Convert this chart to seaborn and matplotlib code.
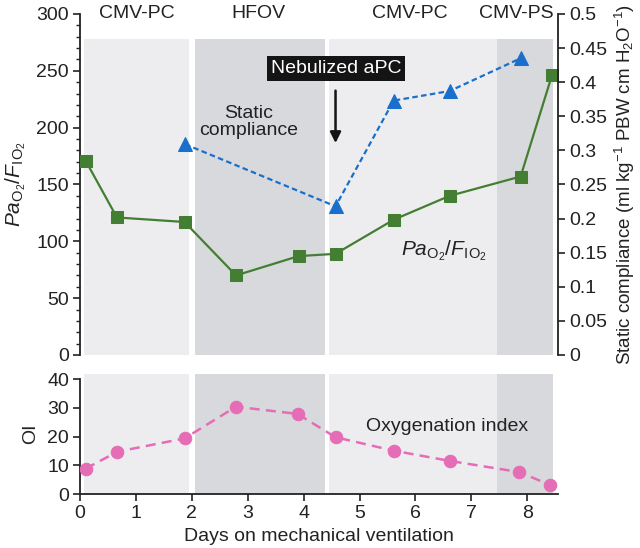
import numpy as np
import pandas as pd
import matplotlib
matplotlib.use("Agg")
import matplotlib.pyplot as plt
from matplotlib.ticker import MultipleLocator, FuncFormatter
import seaborn as sns

# ---- data ----
pf_days = [0.10, 0.66, 1.87, 2.79, 3.91, 4.57, 5.61, 6.61, 7.88, 8.44]
pf_vals = [171, 121, 117, 70, 87, 89, 119, 140, 157, 246]

sc_days = [1.88, 4.57, 5.61, 6.61, 7.88]
sc_vals = [0.309, 0.218, 0.373, 0.387, 0.435]

oi_days = [0.10, 0.67, 1.87, 2.79, 3.89, 4.57, 5.62, 6.61, 7.86, 8.41]
oi_vals = [8.9, 14.8, 19.4, 30.4, 27.9, 19.8, 15.1, 11.6, 7.7, 3.2]

phase_names = ["CMV-PC", "HFOV", "CMV-PC", "CMV-PS"]
phase_start = [0.08, 2.05, 4.46, 7.45]
phase_end = [1.95, 4.38, 7.45, 8.46]
phase_dark = [False, True, False, True]
phase_label_x = [1.02, 3.2, 5.9, 7.8]

x_ticks = [0, 1, 2, 3, 4, 5, 6, 7, 8]

sns.set_theme(style="white")
plt.rcParams["font.family"] = ["Liberation Sans", "DejaVu Sans"]
plt.rcParams["mathtext.fontset"] = "custom"
plt.rcParams["mathtext.rm"] = "Liberation Sans"
plt.rcParams["mathtext.it"] = "Liberation Sans:italic"
plt.rcParams["mathtext.bf"] = "Liberation Sans:bold"

FS = 14
TXT = "#222222"
LIGHT = "#ededef"
DARK = "#d8d9dc"
GREEN = "#437e33"
BLUE = "#1a6fcc"
PINK = "#e56db5"

PF_LABEL = r"$Pa_{\mathrm{O_2}}/F_{\mathrm{I}}{}_{\mathrm{O_2}}$"

fig = plt.figure(figsize=(6.4, 5.48), dpi=100)
ax1 = fig.add_axes([0.125, 0.3522, 0.747, 0.6223])
ax3 = fig.add_axes([0.125, 0.098, 0.747, 0.2208])
ax2 = ax1.twinx()

XL = (0, 8.55)

# shading
for s, e, d in zip(phase_start, phase_end, phase_dark):
    c = DARK if d else LIGHT
    ax1.fill_between([s, e], 0, 278, color=c, lw=0, zorder=0)
    ax3.fill_between([s, e], 0, 41.8, color=c, lw=0, zorder=0)

# top panel
df_pf = pd.DataFrame({"day": pf_days, "val": pf_vals})
sns.lineplot(data=df_pf, x="day", y="val", ax=ax1, color=GREEN, lw=1.6,
             marker="s", markersize=9, markeredgecolor=GREEN, zorder=3)
df_sc = pd.DataFrame({"day": sc_days, "val": sc_vals})
sns.lineplot(data=df_sc, x="day", y="val", ax=ax2, color=BLUE, lw=1.6,
             linestyle=(0, (2.5, 1.5)), marker="^", markersize=10,
             markeredgecolor=BLUE, zorder=3)

ax1.set_xlim(*XL)
ax1.set_ylim(0, 300)
ax2.set_ylim(0, 0.5)
ax1.yaxis.set_major_locator(MultipleLocator(50))
ax1.yaxis.set_minor_locator(MultipleLocator(10))
ax2.yaxis.set_major_locator(MultipleLocator(0.05))
ax2.yaxis.set_major_formatter(FuncFormatter(lambda v, p: "%g" % round(v, 2)))
for a in (ax1, ax2):
    a.set_xlabel("")
    a.set_xticks([])
    for sp in ("top", "bottom"):
        a.spines[sp].set_visible(False)
ax1.spines["right"].set_visible(False)
ax2.spines["left"].set_visible(False)
for sp in ("left", "right"):
    ax1.spines[sp].set_color(TXT)
    ax2.spines[sp].set_color(TXT)
    ax1.spines[sp].set_linewidth(1.3)
    ax2.spines[sp].set_linewidth(1.3)
ax1.tick_params(axis="y", which="major", left=True, length=5, width=1.2,
                labelsize=FS, colors=TXT, pad=3)
ax1.tick_params(axis="y", which="minor", left=True, length=3, width=1.0, colors=TXT)
ax2.tick_params(axis="y", which="major", right=True, length=5, width=1.2,
                labelsize=FS, colors=TXT, pad=3)
ax1.set_ylabel(PF_LABEL, fontsize=FS + 1, color=TXT, labelpad=6)
ax2.set_ylabel(r"Static compliance (ml kg$^{-1}$ PBW cm H$_2$O$^{-1}$)",
               fontsize=FS - 0.5, color=TXT, labelpad=4)

# top labels
for name, xp in zip(phase_names, phase_label_x):
    ax1.text(xp, 300, name, ha="center", va="center", fontsize=FS, color=TXT)

ax1.text(3.02, 205, "Static\ncompliance", ha="center", va="center",
         fontsize=FS, color=TXT, linespacing=1.0)
ax1.text(4.58, 252, "Nebulized aPC", ha="center", va="center", fontsize=FS,
         color="white", bbox=dict(facecolor="#141414", edgecolor="none", pad=3))
ax1.annotate("", xy=(4.57, 184), xytext=(4.57, 235),
             arrowprops=dict(arrowstyle="-|>", color="#141414", lw=1.8,
                             mutation_scale=16))
ax1.text(6.5, 92, PF_LABEL, ha="center", va="center", fontsize=FS + 1, color=TXT)
ax1.set_zorder(ax2.get_zorder() - 1)
ax1.patch.set_visible(False)

# bottom panel
df_oi = pd.DataFrame({"day": oi_days, "val": oi_vals})
sns.lineplot(data=df_oi, x="day", y="val", ax=ax3, color=PINK, lw=1.8,
             linestyle=(0, (4, 2.5)), marker="o", markersize=9,
             markeredgecolor=PINK, zorder=3)
ax3.set_xlim(*XL)
ax3.set_ylim(0, 42)
ax3.yaxis.set_major_locator(MultipleLocator(10))
ax3.set_xticks(x_ticks)
ax3.spines["left"].set_bounds(0, 40)
for sp in ("top", "right"):
    ax3.spines[sp].set_visible(False)
for sp in ("left", "bottom"):
    ax3.spines[sp].set_color(TXT)
    ax3.spines[sp].set_linewidth(1.3)
ax3.tick_params(axis="both", which="major", left=True, bottom=True, length=5,
                width=1.2, labelsize=FS, colors=TXT, pad=3)
ax3.set_ylabel("OI", fontsize=FS, color=TXT, labelpad=6)
ax3.set_xlabel("Days on mechanical ventilation", fontsize=FS, color=TXT, labelpad=4)
ax3.text(6.57, 23.5, "Oxygenation index", ha="center", va="center",
         fontsize=FS, color=TXT)

fig.savefig("out.png", dpi=100)
